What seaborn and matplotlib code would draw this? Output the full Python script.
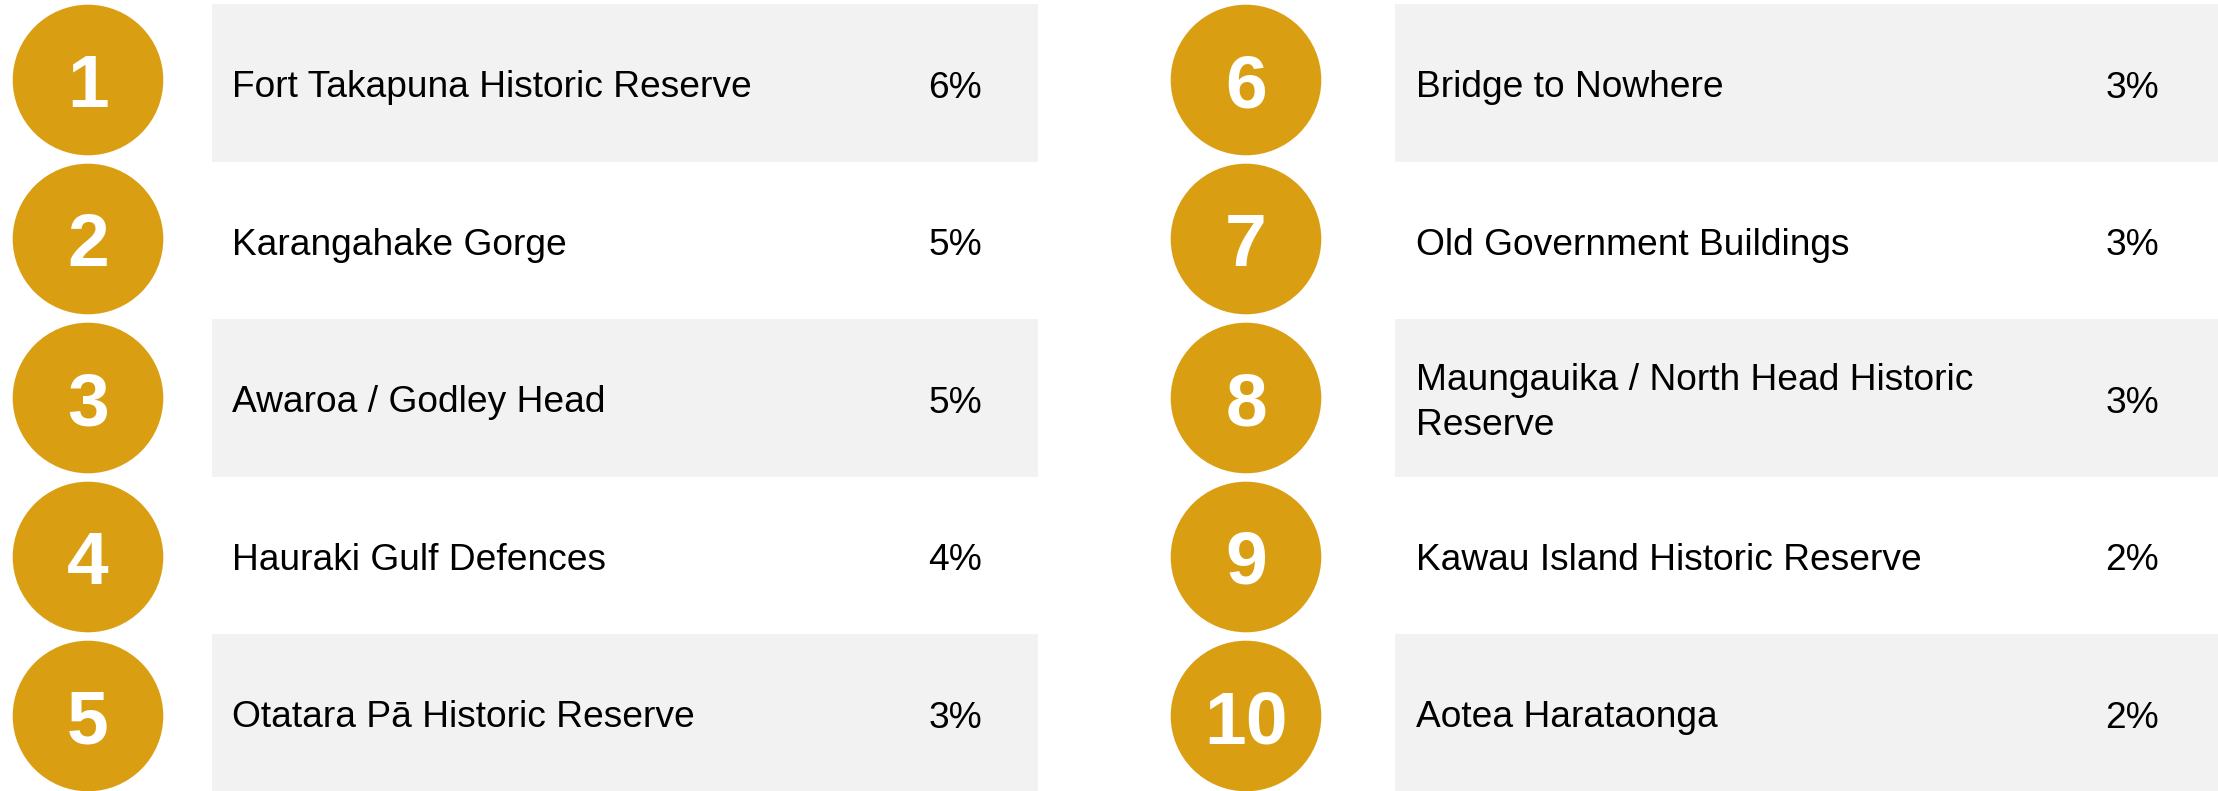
import numpy as np
import pandas as pd
import matplotlib
matplotlib.use("Agg")
import matplotlib.pyplot as plt
import seaborn as sns

# Data ----------------------------
ranks = [1, 2, 3, 4, 5, 6, 7, 8, 9, 10]
sites = [
    "Fort Takapuna Historic Reserve",
    "Karangahake Gorge",
    "Awaroa / Godley Head",
    "Hauraki Gulf Defences",
    "Otatara Pā Historic Reserve",
    "Bridge to Nowhere",
    "Old Government Buildings",
    "Maungauika / North Head Historic\nReserve",
    "Kawau Island Historic Reserve",
    "Aotea Harataonga",
]
shares = [6, 5, 5, 4, 3, 3, 3, 3, 2, 2]

df = pd.DataFrame({"rank": ranks, "site": sites, "share": shares})
df["col"] = (df["rank"] - 1) // 5
df["row"] = (df["rank"] - 1) % 5

# Layout (pixels on x, row units on y)
W, H = 2218, 791
ROW_PX = 157.5
ROW0_PX = 82.75          # pixel centre of the first row
px = 1 / ROW_PX
circle_x = [88, 1246]
band_left = [212, 1395]
band_right = [1038, 2218]
text_x = [232, 1416]
pct_x = [982, 2159]
gold = "#DA9E13"
band = "#F2F2F2"

df["cx"] = df["col"].map(lambda c: circle_x[c])
# circles step a touch wider than the bands
df["cy"] = (80 + 159 * df["row"] - ROW0_PX) / ROW_PX

sns.set_style("white")
plt.rcParams["font.family"] = ["Liberation Sans", "DejaVu Sans"]

fig = plt.figure(figsize=(W / 100, H / 100), dpi=100)
ax = fig.add_axes([0, 0, 1, 1])
ax.set_xlim(0, W)
ax.set_ylim((H - ROW0_PX) / ROW_PX, (0 - ROW0_PX) / ROW_PX)
ax.axis("off")

# gray bands on alternate rows
for c in range(2):
    for r in range(0, 5, 2):
        ax.barh(r, band_right[c] - band_left[c], left=band_left[c], height=1.0,
                color=band, edgecolor="none", zorder=0)

# rank circles
sns.scatterplot(data=df, x="cx", y="cy", s=(2 * 75.3 * 0.72) ** 2, color=gold,
                edgecolor="none", linewidth=0, legend=False, ax=ax, zorder=2)
ax.set_xlabel("")
ax.set_ylabel("")

for _, d in df.iterrows():
    ax.text(d["cx"], d["cy"] + 27 * px, str(d["rank"]), color="white",
            fontsize=54, fontweight="bold", ha="center", va="baseline", zorder=3)
    # baseline alignment uses the last line of a wrapped label
    two_lines = "\n" in d["site"]
    ty = d["row"] + (37.5 if two_lines else 14.5) * px
    ax.text(text_x[d["col"]], ty, d["site"], color="black", fontsize=26.75,
            ha="left", va="baseline", linespacing=1.37, zorder=3)
    ax.text(pct_x[d["col"]], d["row"] + 15 * px, f"{d['share']}%", color="black",
            fontsize=26.75, ha="right", va="baseline", zorder=3)

fig.savefig("out.png", dpi=100)
